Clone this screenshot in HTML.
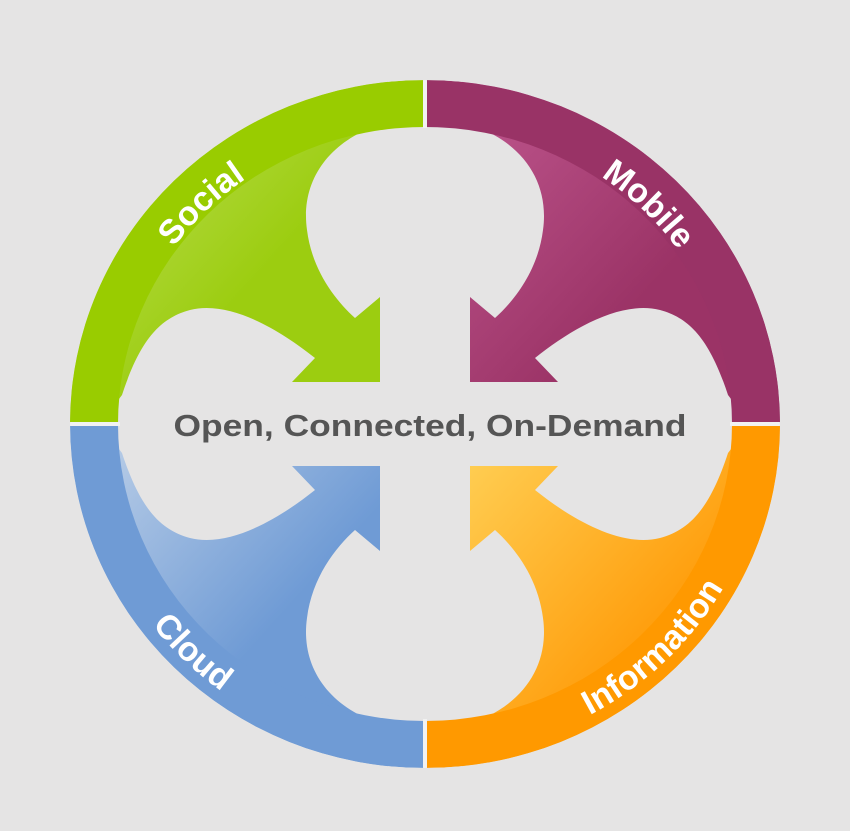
<!DOCTYPE html>
<html><head><meta charset="utf-8"><style>
html,body{margin:0;padding:0;background:#e5e4e4;}
svg{display:block;}
</style></head><body>
<svg width="850" height="831" viewBox="0 0 850 831" xmlns="http://www.w3.org/2000/svg">
<defs>
<clipPath id="c"><ellipse cx="425" cy="424" rx="355" ry="344"/></clipPath>
<linearGradient id="gG" x1="0" y1="0" x2="1" y2="1"><stop offset="0" stop-color="#c4e36a"/><stop offset="0.6" stop-color="#9ccd10"/></linearGradient>
<linearGradient id="gM" x1="1" y1="0" x2="0" y2="1"><stop offset="0" stop-color="#c25a92"/><stop offset="0.6" stop-color="#9b3366"/></linearGradient>
<linearGradient id="gC" x1="0" y1="1" x2="1" y2="0"><stop offset="0" stop-color="#c6d6ea"/><stop offset="0.6" stop-color="#6f9bd5"/></linearGradient>
<linearGradient id="gI" x1="1" y1="1" x2="0" y2="0"><stop offset="0" stop-color="#ffd35a"/><stop offset="0.6" stop-color="#ff9c0a"/></linearGradient>
<path id="arrow" d="M 388 122 C 330 138, 300 180, 307 230 C 312 270, 335 300, 355 318 L 380 297 L 380 382 L 292 382 L 315 358 C 280 330, 230 300, 190 310 C 160 318, 140 340, 122 395 L 100 424 L 60 424 L 60 60 L 388 60 Z"/>
<path id="pS" d="M 114 424 A 311 300 0 0 1 425 124"/>
<path id="pM" d="M 425 124 A 311 300 0 0 1 736 424"/>
<path id="pC" d="M 82 424 A 343 332 0 0 0 425 756"/>
<path id="pI" d="M 425 756 A 343 332 0 0 0 768 424"/>
</defs>
<g clip-path="url(#c)">
  <use href="#arrow" fill="url(#gG)"/>
  <use href="#arrow" fill="url(#gM)" transform="translate(850,0) scale(-1,1)"/>
  <use href="#arrow" fill="url(#gC)" transform="translate(0,848) scale(1,-1)"/>
  <use href="#arrow" fill="url(#gI)" transform="rotate(180 425 424)"/>
  <path fill="#99cc00" d="M 70 424 A 355 344 0 0 1 425 80 L 425 127 A 307 297 0 0 0 118 424 Z"/>
  <path fill="#993366" d="M 425 80 A 355 344 0 0 1 780 424 L 732 424 A 307 297 0 0 0 425 127 Z"/>
  <path fill="#6f9bd5" d="M 70 424 A 355 344 0 0 0 425 768 L 425 721 A 307 297 0 0 1 118 424 Z"/>
  <path fill="#ff9900" d="M 780 424 A 355 344 0 0 1 425 768 L 425 721 A 307 297 0 0 0 732 424 Z"/>
  <rect x="423" y="70" width="4" height="58" fill="#f2f2f2"/>
  <rect x="423" y="719" width="4" height="60" fill="#f2f2f2"/>
  <rect x="60" y="422" width="60" height="4" fill="#f2f2f2"/>
  <rect x="730" y="422" width="60" height="4" fill="#f2f2f2"/>
</g>
<g font-family="Liberation Sans, sans-serif" font-weight="bold" font-size="34" fill="#ffffff" text-anchor="middle">
  <text><textPath href="#pS" startOffset="50%">Social</textPath></text>
  <text><textPath href="#pM" startOffset="50%">Mobile</textPath></text>
  <text><textPath href="#pC" startOffset="50%">Cloud</textPath></text>
  <text><textPath href="#pI" startOffset="50%">Information</textPath></text>
</g>
<text x="430" y="436" font-family="Liberation Sans, sans-serif" font-weight="bold" font-size="31" fill="#555555" text-anchor="middle" textLength="513" lengthAdjust="spacingAndGlyphs">Open, Connected, On-Demand</text>
</svg>
</body></html>
